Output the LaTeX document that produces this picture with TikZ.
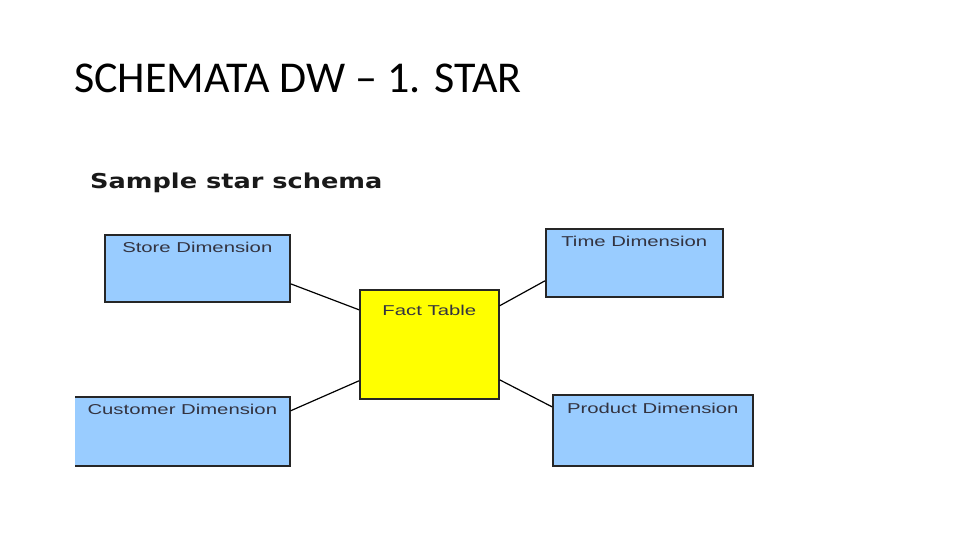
\documentclass[tikz,border=0pt]{standalone}
\usepackage{fontspec}
\setmainfont{Carlito}
\newfontfamily\boxfont[FakeStretch=1.42]{Liberation Sans}
\newfontfamily\headfont[FakeStretch=1.25]{DejaVu Sans}
\definecolor{dimblue}{HTML}{99CCFF}
\definecolor{factyellow}{HTML}{FFFF00}
\definecolor{labelgray}{HTML}{333340}
\begin{document}
\begin{tikzpicture}[x=1pt,y=-1pt,
  tbl/.style={draw=black!85, line width=1.6pt, anchor=north west, inner sep=0pt},
  dim/.style={tbl, fill=dimblue},
  fact/.style={tbl, fill=factyellow},
  lbl/.style={anchor=north, inner sep=0pt, text=labelgray, font=\boxfont\fontsize{14.3}{15}\selectfont},
  link/.style={draw=black, line width=1.2pt}]
\useasboundingbox (0,0) rectangle (960,540);
\fill[white] (0,0) rectangle (960,540);
\node[anchor=base west, inner sep=0pt, font=\fontsize{44}{50}\selectfont] (title) at (74,93) {SCHEMATA DW -- 1. STAR};
\node[anchor=base west, inner sep=0pt, font=\headfont\bfseries\fontsize{20.5}{24}\selectfont, text=black!90] (head) at (90,188) {Sample star schema};

\node[dim, minimum width=185pt, minimum height=67pt] (store) at (104,234) {};
\node[dim, minimum width=177pt, minimum height=68pt] (time) at (545,228) {};
\node[fact, minimum width=139pt, minimum height=109pt] (factt) at (359,289) {};
\node[dim, minimum width=214pt, minimum height=69pt] (cust) at (75,396) {};
\fill[dimblue] (cust.north west) ++(0,1.8) rectangle ([xshift=2.5pt,yshift=1.8pt]cust.south west);
\node[dim, minimum width=200pt, minimum height=71pt] (prod) at (552,394) {};

\node[lbl] (storel) at ([yshift=-8pt]store.north) {Store Dimension};
\node[lbl] (timel) at ([yshift=-8pt]time.north) {Time Dimension};
\node[lbl] (factl) at ([yshift=-16pt]factt.north) {Fact Table};
\node[lbl] (custl) at ([xshift=-0.5pt,yshift=-8pt]cust.north) {Customer Dimension};
\node[lbl] (prodl) at ([yshift=-9pt]prod.north) {Product Dimension};

\draw[link] ([yshift=-15.5pt]store.east) -- ([yshift=34.5pt]factt.west);
\draw[link] ([yshift=38.5pt]factt.east) -- ([yshift=-18pt]time.west);
\draw[link] ([yshift=-36.5pt]factt.west) -- ([yshift=20.5pt]cust.east);
\draw[link] ([yshift=-35.5pt]factt.east) -- ([yshift=23.5pt]prod.west);
\end{tikzpicture}
\end{document}
